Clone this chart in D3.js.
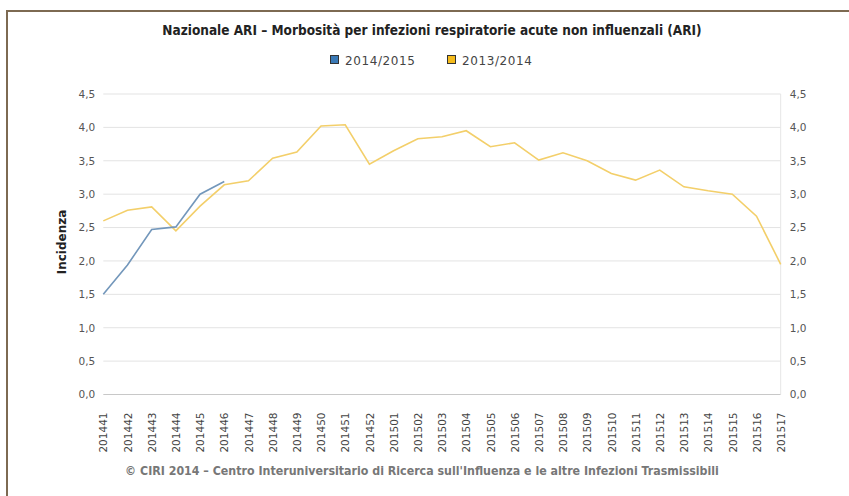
<!DOCTYPE html>
<html>
<head>
<meta charset="utf-8">
<script src="https://cdn.jsdelivr.net/npm/d3@7"></script>
<style>
  body { margin: 0; background: #fff; }
  svg { display: block; }
</style>
</head>
<body>
<div id="chart"></div>
<script>
// settimane
var weeks = ["201441", "201442", "201443", "201444", "201445", "201446", "201447", "201448",
  "201449", "201450", "201451", "201452", "201501", "201502", "201503", "201504", "201505",
  "201506", "201507", "201508", "201509", "201510", "201511", "201512", "201513", "201514",
  "201515", "201516", "201517"];
var s1415 = [1.5, 1.94, 2.47, 2.51, 3.0, 3.19];
var s1314 = [2.6, 2.76, 2.81, 2.45, 2.82, 3.14, 3.2, 3.54, 3.63, 4.02, 4.04, 3.45, 3.65, 3.83,
  3.86, 3.95, 3.71, 3.77, 3.51, 3.62, 3.5, 3.31, 3.21, 3.36, 3.11, 3.05, 3.0, 2.67, 1.95];
var yTicks = [0, 0.5, 1, 1.5, 2, 2.5, 3, 3.5, 4, 4.5];
var seriesNames = ["2014/2015", "2013/2014"];

var W = 849, H = 496;
var m = {l: 103.3, r: W - 780.7, t: 94, b: H - 394.5};
var font = "'DejaVu Sans', sans-serif";
var fontC = "'DejaVu Sans Condensed', sans-serif";

var svg = d3.select("#chart").append("svg").attr("width", W).attr("height", H);

// cornice
svg.append("path").attr("d", "M7,496V11H849").attr("fill", "none")
  .attr("stroke", "#7d6a52").attr("stroke-width", 2);

var x = d3.scalePoint().domain(weeks).range([m.l, W - m.r]);
var y = d3.scaleLinear().domain([0, 4.5]).range([H - m.b, m.t]);
var fmt = function (d) { return d3.format(".1f")(d).replace(".", ","); };

// griglia
svg.append("g").selectAll("line").data(yTicks).enter().append("line")
  .attr("x1", m.l).attr("x2", W - m.r)
  .attr("y1", function (d) { return y(d); }).attr("y2", function (d) { return y(d); })
  .attr("stroke", function (d) { return d == 0 ? "#c8c8c8" : "#e3e3e3"; }).attr("stroke-width", 1);
svg.append("line").attr("x1", W - m.r).attr("x2", W - m.r).attr("y1", m.t).attr("y2", H - m.b)
  .attr("stroke", "#e6e6e6");

// assi y
var yl = svg.append("g").attr("transform", "translate(" + (m.l - 8) + ",0)")
  .call(d3.axisLeft(y).tickValues(yTicks).tickFormat(fmt).tickSize(0).tickPadding(0));
var yr = svg.append("g").attr("transform", "translate(" + (W - m.r + 9) + ",0)")
  .call(d3.axisRight(y).tickValues(yTicks).tickFormat(fmt).tickSize(0).tickPadding(0));
[yl, yr].forEach(function (g) {
  g.select(".domain").remove();
  g.selectAll("text").attr("font-family", font).attr("font-size", "10.5px").attr("fill", "#555");
});

// asse x
var xa = svg.append("g").attr("transform", "translate(0," + (H - m.b) + ")")
  .call(d3.axisBottom(x).tickSize(0));
xa.select(".domain").remove();
xa.selectAll("text").attr("font-family", font).attr("font-size", "10.5px").attr("fill", "#444")
  .attr("transform", "rotate(-90)").attr("text-anchor", "end")
  .attr("x", -18).attr("y", 0).attr("dy", "0.35em");

// linee
var line = d3.line().x(function (d, i) { return x(weeks[i]); }).y(function (d) { return y(d); });
svg.append("path").datum(s1314).attr("d", line).attr("fill", "none")
  .attr("stroke", "#f3cf6a").attr("stroke-width", 1.6);
svg.append("path").datum(s1415).attr("d", line).attr("fill", "none")
  .attr("stroke", "#7397bb").attr("stroke-width", 1.6);

// titolo
svg.append("text").attr("x", 432).attr("y", 35).attr("text-anchor", "middle")
  .attr("font-family", fontC).attr("font-weight", "bold")
  .attr("font-size", "13.5px").attr("fill", "#222")
  .text("Nazionale ARI – Morbosità per infezioni respiratorie acute non influenzali (ARI)");

// legenda
var legColors = ["#3a79b6", "#f5bb1b"];
var legX = [330, 447];
seriesNames.forEach(function (n, i) {
  svg.append("rect").attr("x", legX[i] + 0.5).attr("y", 55.5).attr("width", 8).attr("height", 8)
    .attr("fill", legColors[i]).attr("stroke", "#333").attr("stroke-width", 1);
  svg.append("text").attr("x", legX[i] + 15).attr("y", 64.5).attr("font-family", font)
    .attr("font-size", "12px").attr("letter-spacing", "0.6px").attr("fill", "#444").text(n);
});

// titolo asse y
svg.append("text").attr("transform", "translate(66,242) rotate(-90)").attr("text-anchor", "middle")
  .attr("font-family", font).attr("font-weight", "bold").attr("font-size", "12px")
  .attr("fill", "#222").text("Incidenza");

// crediti
svg.append("text").attr("x", 422).attr("y", 475).attr("text-anchor", "middle")
  .attr("font-family", fontC).attr("font-weight", "bold")
  .attr("font-size", "12.3px").attr("fill", "#777")
  .text("© CIRI 2014 – Centro Interuniversitario di Ricerca sull'Influenza e le altre Infezioni Trasmissibili");
</script>
</body>
</html>
